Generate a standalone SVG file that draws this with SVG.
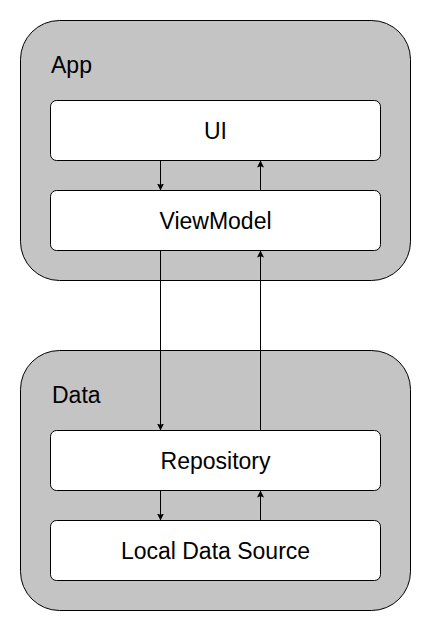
<svg xmlns="http://www.w3.org/2000/svg" width="431" height="631" viewBox="0 0 431 631">
<defs>
<style>
.container{fill:#C4C4C4;stroke:#000;stroke-width:1}
.box{fill:#fff;stroke:#000;stroke-width:1}
.lbl{font-family:"Liberation Sans",Arial,sans-serif;font-size:23px;fill:#000}
.mid{text-anchor:middle}
.edge{stroke:#000;stroke-width:1;fill:none;marker-end:url(#arr)}
</style>
<marker id="arr" viewBox="0 0 8 8" refX="8" refY="4" markerWidth="7" markerHeight="7" markerUnits="userSpaceOnUse" orient="auto">
<path d="M0,0 L8,4 L0,8 L1.5,4 z" fill="#000"/>
</marker>
</defs>
<g id="app">
<rect class="container" x="20.5" y="20.5" width="390" height="260" rx="39" ry="39"/>
<text class="lbl" x="51" y="73">App</text>
</g>
<g id="data">
<rect class="container" x="20.5" y="350.5" width="390" height="260" rx="39" ry="39"/>
<text class="lbl" x="52" y="403">Data</text>
</g>
<g id="ui">
<rect class="box" x="50.5" y="100.5" width="330" height="60" rx="6" ry="6"/>
<text class="lbl mid" x="215.5" y="138.8">UI</text>
</g>
<g id="viewmodel">
<rect class="box" x="50.5" y="190.5" width="330" height="60" rx="6" ry="6"/>
<text class="lbl mid" x="215.5" y="228.8">ViewModel</text>
</g>
<g id="repository">
<rect class="box" x="50.5" y="430.5" width="330" height="60" rx="6" ry="6"/>
<text class="lbl mid" x="215.5" y="468.8">Repository</text>
</g>
<g id="local">
<rect class="box" x="50.5" y="520.5" width="330" height="60" rx="6" ry="6"/>
<text class="lbl mid" x="215.5" y="558.8">Local Data Source</text>
</g>
<g id="connectors">
<line class="edge" x1="160.5" y1="160.5" x2="160.5" y2="190.5"/>
<line class="edge" x1="260.5" y1="190.5" x2="260.5" y2="160.5"/>
<line class="edge" x1="160.5" y1="250.5" x2="160.5" y2="430.5"/>
<line class="edge" x1="260.5" y1="430.5" x2="260.5" y2="250.5"/>
<line class="edge" x1="160.5" y1="490.5" x2="160.5" y2="520.5"/>
<line class="edge" x1="260.5" y1="520.5" x2="260.5" y2="490.5"/>
</g>
</svg>
